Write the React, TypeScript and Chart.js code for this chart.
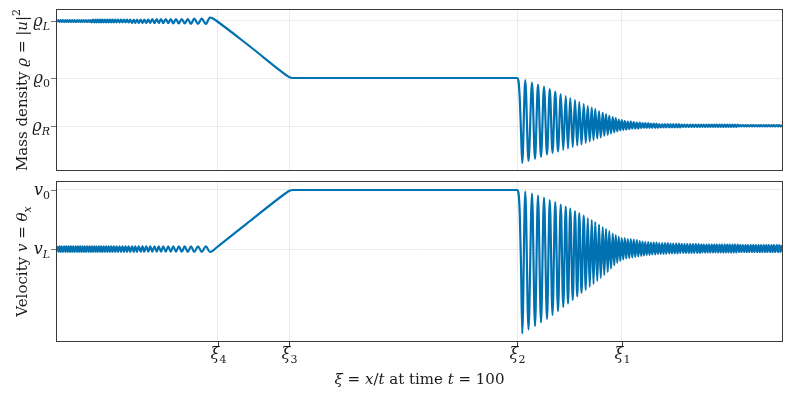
import React, { useEffect, useRef } from "react";
import { Chart, registerables } from "chart.js";
Chart.register(...registerables);

const FONT = "'DejaVu Serif', 'Liberation Serif', serif";
const BLUE = "#0072b2";
const GRID = "#ebebeb";
const FRAME = "#3a3a3a";
const TICK = "#777777";

// x-axis (xi = x/t) range and ticks
const XI_MIN = -1.45;
const XI_MAX = 1.45;
const xiTickValues = [-0.807, -0.522, 0.391, 0.809];
const xiTickSubs = ["4", "3", "2", "1"];

// y-axis ticks
const rhoTickValues = [3.1, 1.96, 1.0];
const rhoTickSubs = ["L", "0", "R"];
const vTickValues = [1.18, 0.0];
const vTickSubs = ["0", "L"];

// left dispersive oscillation (extrema)
const leftXi = [
  -1.449, -1.444, -1.44, -1.435, -1.431, -1.426, -1.421, -1.416, -1.412, -1.407,
  -1.403, -1.398, -1.394, -1.389, -1.385, -1.38, -1.375, -1.37, -1.366, -1.361,
  -1.357, -1.352, -1.348, -1.343, -1.339, -1.334, -1.329, -1.324, -1.32, -1.315,
  -1.311, -1.306, -1.301, -1.296, -1.292, -1.287, -1.282, -1.277, -1.273, -1.268,
  -1.263, -1.258, -1.253, -1.248, -1.243, -1.238, -1.233, -1.228, -1.223, -1.217,
  -1.212, -1.206, -1.2, -1.194, -1.188, -1.182, -1.176, -1.17, -1.164, -1.157,
  -1.15, -1.143, -1.137, -1.13, -1.123, -1.115, -1.108, -1.101, -1.093, -1.085,
  -1.077, -1.069, -1.06, -1.051, -1.043, -1.034, -1.025, -1.015, -1.005, -0.995,
  -0.985, -0.974, -0.963, -0.951, -0.939, -0.927, -0.914, -0.901, -0.886, -0.871,
  -0.855, -0.838,
];
const leftRho = [
  3.08, 3.12, 3.08, 3.12, 3.08, 3.12, 3.08, 3.12, 3.08, 3.12,
  3.08, 3.12, 3.08, 3.12, 3.08, 3.12, 3.08, 3.12, 3.08, 3.12,
  3.08, 3.12, 3.08, 3.12, 3.08, 3.12, 3.08, 3.12, 3.08, 3.12,
  3.07, 3.13, 3.07, 3.13, 3.07, 3.13, 3.07, 3.13, 3.07, 3.13,
  3.07, 3.13, 3.07, 3.13, 3.07, 3.13, 3.07, 3.13, 3.07, 3.13,
  3.07, 3.13, 3.07, 3.13, 3.07, 3.13, 3.07, 3.13, 3.07, 3.13,
  3.06, 3.13, 3.06, 3.13, 3.06, 3.13, 3.06, 3.13, 3.06, 3.13,
  3.06, 3.14, 3.06, 3.14, 3.06, 3.14, 3.06, 3.14, 3.06, 3.14,
  3.05, 3.14, 3.05, 3.14, 3.05, 3.14, 3.04, 3.15, 3.04, 3.15,
  3.04, 3.17,
];
const leftV = [
  0.055, -0.055, 0.055, -0.055, 0.055, -0.055, 0.055, -0.055, 0.055, -0.055,
  0.055, -0.055, 0.055, -0.055, 0.055, -0.055, 0.055, -0.055, 0.055, -0.055,
  0.055, -0.055, 0.055, -0.055, 0.055, -0.055, 0.055, -0.055, 0.055, -0.055,
  0.055, -0.055, 0.055, -0.055, 0.055, -0.055, 0.055, -0.055, 0.055, -0.055,
  0.055, -0.055, 0.055, -0.055, 0.055, -0.055, 0.055, -0.055, 0.055, -0.055,
  0.055, -0.055, 0.055, -0.055, 0.055, -0.055, 0.055, -0.055, 0.055, -0.055,
  0.055, -0.055, 0.055, -0.055, 0.055, -0.055, 0.055, -0.055, 0.055, -0.055,
  0.055, -0.055, 0.055, -0.055, 0.055, -0.055, 0.055, -0.055, 0.055, -0.055,
  0.055, -0.055, 0.055, -0.055, 0.055, -0.06, 0.055, -0.06, 0.055, -0.06,
  0.055, -0.06,
];

// rarefaction ramp, plateau and shock front
const midXi = [-0.826, -0.814, -0.678, -0.534, -0.522, -0.506, 0.39, 0.396, 0.401, 0.406];
const midRho = [3.15, 3.11, 2.59, 2.02, 1.98, 1.96, 1.96, 1.9, 1.55, 0.9];
const midV = [-0.03, 0.02, 0.56, 1.12, 1.16, 1.18, 1.18, 1.12, 0.7, -0.3];

// right dispersive shock oscillation (extrema)
const rightXi = [
  0.411, 0.423, 0.436, 0.45, 0.462, 0.474, 0.486, 0.498, 0.51, 0.521,
  0.532, 0.543, 0.554, 0.565, 0.575, 0.585, 0.594, 0.603, 0.613, 0.622,
  0.631, 0.639, 0.648, 0.657, 0.665, 0.673, 0.681, 0.689, 0.696, 0.703,
  0.711, 0.718, 0.725, 0.733, 0.739, 0.746, 0.753, 0.759, 0.766, 0.773,
  0.779, 0.785, 0.791, 0.797, 0.803, 0.809, 0.815, 0.821, 0.827, 0.833,
  0.839, 0.845, 0.851, 0.857, 0.863, 0.869, 0.875, 0.881, 0.887, 0.892,
  0.898, 0.903, 0.909, 0.915, 0.92, 0.926, 0.931, 0.937, 0.943, 0.948,
  0.954, 0.959, 0.965, 0.971, 0.976, 0.982, 0.987, 0.993, 0.999, 1.004,
  1.01, 1.015, 1.021, 1.027, 1.032, 1.038, 1.043, 1.049, 1.055, 1.06,
  1.066, 1.071, 1.077, 1.083, 1.088, 1.094, 1.099, 1.105, 1.111, 1.116,
  1.122, 1.127, 1.132, 1.137, 1.143, 1.148, 1.153, 1.158, 1.163, 1.169,
  1.174, 1.179, 1.184, 1.189, 1.195, 1.2, 1.205, 1.21, 1.215, 1.221,
  1.226, 1.231, 1.236, 1.241, 1.247, 1.252, 1.257, 1.262, 1.267, 1.273,
  1.278, 1.283, 1.288, 1.293, 1.299, 1.304, 1.309, 1.314, 1.319, 1.325,
  1.33, 1.335, 1.34, 1.345, 1.351, 1.356, 1.361, 1.366, 1.371, 1.377,
  1.382, 1.387, 1.392, 1.397, 1.403, 1.408, 1.413, 1.418, 1.423, 1.429,
  1.434, 1.439, 1.444, 1.45,
];
const rightRho = [
  0.26, 1.92, 0.3, 1.87, 0.34, 1.83, 0.38, 1.79, 0.43, 1.74,
  0.46, 1.69, 0.49, 1.64, 0.52, 1.6, 0.55, 1.56, 0.58, 1.52,
  0.61, 1.48, 0.63, 1.44, 0.66, 1.4, 0.69, 1.37, 0.72, 1.34,
  0.75, 1.3, 0.77, 1.27, 0.8, 1.24, 0.82, 1.21, 0.85, 1.18,
  0.87, 1.16, 0.89, 1.13, 0.91, 1.12, 0.92, 1.1, 0.93, 1.09,
  0.94, 1.09, 0.95, 1.08, 0.95, 1.07, 0.95, 1.07, 0.96, 1.06,
  0.96, 1.06, 0.96, 1.06, 0.96, 1.05, 0.96, 1.05, 0.96, 1.05,
  0.96, 1.04, 0.97, 1.04, 0.97, 1.04, 0.97, 1.04, 0.97, 1.04,
  0.97, 1.04, 0.97, 1.04, 0.97, 1.04, 0.97, 1.03, 0.98, 1.03,
  0.98, 1.03, 0.98, 1.03, 0.98, 1.03, 0.98, 1.03, 0.98, 1.03,
  0.98, 1.03, 0.98, 1.03, 0.98, 1.03, 0.98, 1.03, 0.98, 1.03,
  0.98, 1.03, 0.98, 1.03, 0.98, 1.03, 0.98, 1.03, 0.98, 1.03,
  0.98, 1.03, 0.98, 1.03, 0.98, 1.03, 0.98, 1.03, 0.98, 1.03,
  0.99, 1.02, 0.99, 1.02, 0.99, 1.02, 0.99, 1.02, 0.99, 1.02,
  0.99, 1.02, 0.99, 1.02, 0.99, 1.02, 0.99, 1.02, 0.99, 1.02,
  0.99, 1.02, 0.99, 1.02, 0.99, 1.02, 0.99, 1.02, 0.99, 1.02,
  0.99, 1.02, 0.99, 1.02,
];
const rightV = [
  -1.69, 1.15, -1.61, 1.11, -1.54, 1.07, -1.47, 1.03, -1.4, 0.98,
  -1.32, 0.94, -1.24, 0.89, -1.16, 0.85, -1.09, 0.81, -1.02, 0.76,
  -0.95, 0.72, -0.88, 0.67, -0.82, 0.62, -0.76, 0.58, -0.7, 0.54,
  -0.64, 0.49, -0.58, 0.44, -0.52, 0.4, -0.46, 0.36, -0.39, 0.31,
  -0.33, 0.28, -0.28, 0.25, -0.24, 0.22, -0.21, 0.22, -0.19, 0.2,
  -0.18, 0.2, -0.17, 0.19, -0.16, 0.18, -0.15, 0.16, -0.14, 0.15,
  -0.13, 0.14, -0.12, 0.14, -0.12, 0.13, -0.11, 0.13, -0.11, 0.13,
  -0.1, 0.12, -0.1, 0.12, -0.1, 0.12, -0.1, 0.12, -0.09, 0.11,
  -0.09, 0.11, -0.09, 0.11, -0.09, 0.11, -0.08, 0.1, -0.08, 0.1,
  -0.08, 0.1, -0.08, 0.1, -0.08, 0.1, -0.08, 0.1, -0.08, 0.1,
  -0.08, 0.09, -0.07, 0.09, -0.07, 0.09, -0.07, 0.09, -0.07, 0.09,
  -0.07, 0.09, -0.07, 0.09, -0.07, 0.09, -0.07, 0.09, -0.07, 0.09,
  -0.07, 0.09, -0.07, 0.09, -0.07, 0.09, -0.07, 0.09, -0.07, 0.09,
  -0.06, 0.08, -0.06, 0.08, -0.06, 0.08, -0.06, 0.08, -0.06, 0.08,
  -0.06, 0.08, -0.06, 0.08, -0.06, 0.08, -0.06, 0.08, -0.06, 0.08,
  -0.06, 0.08, -0.06, 0.08, -0.06, 0.08, -0.06, 0.08, -0.06, 0.08,
  -0.06, 0.08, -0.06, 0.08,
];

const RHO_MIN = 0.12;
const RHO_MAX = 3.32;
const V_MIN = -1.84;
const V_MAX = 1.34;

type Seg = { t: string; it?: boolean; sub?: boolean; sup?: boolean };

function drawRich(
  ctx: CanvasRenderingContext2D,
  segs: Seg[],
  x: number,
  y: number,
  align: "left" | "center" | "right",
  size: number,
  rot = 0
) {
  ctx.save();
  ctx.translate(x, y);
  if (rot) ctx.rotate(rot);
  const fontFor = (s: Seg) =>
    `${s.it ? "italic " : ""}${s.sub || s.sup ? Math.round(size * 0.7) : size}px ${FONT}`;
  let total = 0;
  const widths = segs.map((s) => {
    ctx.font = fontFor(s);
    const w = ctx.measureText(s.t).width;
    total += w;
    return w;
  });
  let cx = align === "left" ? 0 : align === "center" ? -total / 2 : -total;
  ctx.textAlign = "left";
  ctx.textBaseline = "alphabetic";
  ctx.fillStyle = "#1a1a1a";
  segs.forEach((s, i) => {
    ctx.font = fontFor(s);
    const dy = s.sub ? size * 0.25 : s.sup ? -size * 0.45 : 0;
    ctx.fillText(s.t, cx, dy);
    cx += widths[i];
  });
  ctx.restore();
}

function series(xs: number[], ys: number[]) {
  return xs.map((x, i) => ({ x, y: ys[i] }));
}

function decoPlugin(kind: "top" | "bottom") {
  return {
    id: "deco-" + kind,
    afterDraw(chart: any) {
      const ctx: CanvasRenderingContext2D = chart.ctx;
      const a = chart.chartArea;
      const sx = chart.scales.x;
      const sy = chart.scales.y;
      ctx.save();
      ctx.strokeStyle = FRAME;
      ctx.lineWidth = 1;
      ctx.strokeRect(a.left - 0.5, a.top - 0.5, a.right - a.left + 1, a.bottom - a.top + 1);

      const vals = kind === "top" ? rhoTickValues : vTickValues;
      const subs = kind === "top" ? rhoTickSubs : vTickSubs;
      const sym = kind === "top" ? "ϱ" : "v";
      vals.forEach((v, i) => {
        const y = Math.round(sy.getPixelForValue(v)) + 0.5;
        ctx.strokeStyle = TICK;
        ctx.lineWidth = 1;
        ctx.beginPath();
        ctx.moveTo(a.left - 6, y);
        ctx.lineTo(a.left - 1, y);
        ctx.stroke();
        drawRich(
          ctx,
          [
            { t: sym, it: true },
            { t: subs[i], it: /[A-Z]/.test(subs[i]), sub: true },
          ],
          a.left - 7,
          y + 4,
          "right",
          16
        );
      });

      const cy = (a.top + a.bottom) / 2;
      if (kind === "top") {
        drawRich(
          ctx,
          [
            { t: "Mass density " },
            { t: "ϱ", it: true },
            { t: " = |" },
            { t: "u", it: true },
            { t: "|" },
            { t: "2", sup: true },
          ],
          27,
          cy,
          "center",
          15,
          -Math.PI / 2
        );
      } else {
        drawRich(
          ctx,
          [
            { t: "Velocity " },
            { t: "v", it: true },
            { t: " = " },
            { t: "θ", it: true },
            { t: "x", it: true, sub: true },
          ],
          27,
          cy,
          "center",
          15,
          -Math.PI / 2
        );
        xiTickValues.forEach((v, i) => {
          const x = Math.round(sx.getPixelForValue(v)) + 0.5;
          ctx.strokeStyle = FRAME;
          ctx.lineWidth = 1;
          ctx.beginPath();
          ctx.moveTo(x, a.bottom + 1);
          ctx.lineTo(x, a.bottom + 5);
          ctx.stroke();
          drawRich(
            ctx,
            [{ t: "ξ", it: true }, { t: xiTickSubs[i], sub: true }],
            x,
            a.bottom + 17.5,
            "center",
            16
          );
        });
        drawRich(
          ctx,
          [
            { t: "ξ", it: true },
            { t: " = " },
            { t: "x", it: true },
            { t: "/" },
            { t: "t", it: true },
            { t: " at time " },
            { t: "t", it: true },
            { t: " = 100" },
          ],
          (a.left + a.right) / 2,
          a.bottom + 43,
          "center",
          15
        );
      }
      ctx.restore();
    },
  };
}

function makeConfig(
  kind: "top" | "bottom",
  data: { x: number; y: number }[],
  yMin: number,
  yMax: number,
  yTicks: number[],
  padding: any,
  xHeight: number
): any {
  return {
    type: "line",
    data: {
      datasets: [
        {
          data,
          borderColor: BLUE,
          borderWidth: 2.2,
          pointRadius: 0,
          fill: false,
          cubicInterpolationMode: "monotone",
        },
      ],
    },
    options: {
      animation: false,
      responsive: false,
      maintainAspectRatio: false,
      events: [],
      layout: { padding },
      plugins: { legend: { display: false }, tooltip: { enabled: false } },
      scales: {
        x: {
          type: "linear",
          min: XI_MIN,
          max: XI_MAX,
          ticks: { display: false },
          grid: { color: GRID, drawTicks: false, lineWidth: 1 },
          border: { display: false },
          afterBuildTicks: (s: any) => {
            s.ticks = xiTickValues.map((v) => ({ value: v }));
          },
          afterFit: (s: any) => {
            s.height = xHeight;
          },
        },
        y: {
          type: "linear",
          min: yMin,
          max: yMax,
          ticks: { display: false },
          grid: { color: GRID, drawTicks: false, lineWidth: 1 },
          border: { display: false },
          afterBuildTicks: (s: any) => {
            s.ticks = yTicks.map((v) => ({ value: v }));
          },
          afterFit: (s: any) => {
            s.width = 57;
          },
        },
      },
    },
    plugins: [decoPlugin(kind)],
  };
}

export default function App() {
  const topRef = useRef<HTMLCanvasElement>(null);
  const botRef = useRef<HTMLCanvasElement>(null);

  useEffect(() => {
    const rhoData = [
      ...series(leftXi, leftRho),
      ...series(midXi, midRho),
      ...series(rightXi, rightRho),
    ];
    const vData = [
      ...series(leftXi, leftV),
      ...series(midXi, midV),
      ...series(rightXi, rightV),
    ];
    const top = new Chart(
      topRef.current as HTMLCanvasElement,
      makeConfig("top", rhoData, RHO_MIN, RHO_MAX, rhoTickValues, { left: 0, right: 11, top: 10, bottom: 6 }, 0)
    );
    const bot = new Chart(
      botRef.current as HTMLCanvasElement,
      makeConfig("bottom", vData, V_MIN, V_MAX, vTickValues, { left: 0, right: 11, top: 6, bottom: 0 }, 56)
    );
    return () => {
      top.destroy();
      bot.destroy();
    };
  }, []);

  return (
    <div style={{ position: "fixed", left: 0, top: 0, width: 793, height: 397, background: "#fff" }}>
      <canvas
        ref={topRef}
        width={793}
        height={176}
        style={{ position: "absolute", left: 0, top: 0, width: 793, height: 176, display: "block" }}
      />
      <canvas
        ref={botRef}
        width={793}
        height={221}
        style={{ position: "absolute", left: 0, top: 176, width: 793, height: 221, display: "block" }}
      />
    </div>
  );
}
